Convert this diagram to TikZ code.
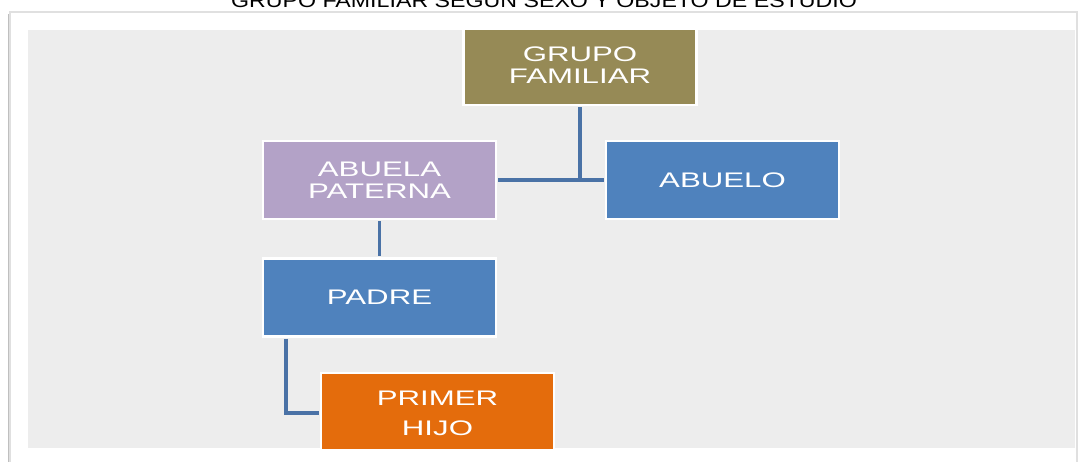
\documentclass[tikz,border=0pt]{standalone}
\usepackage{fontspec}
\newfontfamily\boxfont[FakeStretch=1.48]{Liberation Sans}
\newfontfamily\titlefont[FakeStretch=1.2]{Liberation Sans}

\definecolor{olivebox}{HTML}{968A56}
\definecolor{lilacbox}{HTML}{B3A2C7}
\definecolor{bluebox}{HTML}{4F82BD}
\definecolor{orangebox}{HTML}{E46C0C}
\definecolor{linkblue}{HTML}{4A72A6}
\definecolor{panelgray}{HTML}{EDEDED}

\tikzset{
  member/.style={draw=white, line width=1.2pt, text=white, align=center,
    minimum width=4.66cm, minimum height=1.56cm, inner sep=0pt,
    font=\boxfont\fontsize{12}{12.8}\selectfont},
  link/.style={draw=linkblue, line width=2.2pt, shorten <=0.6pt, shorten >=0.6pt},
}

\begin{document}
\begin{tikzpicture}[x=0.02cm, y=-0.02cm]
        \useasboundingbox (0,0) rectangle (1081,461);

        % marco y fondo
        \fill[white] (0,0) rectangle (1081,461);
        \draw[black!25, line width=1.6pt] (9,14) -- (9,470);
        \draw[black!12, line width=0.6pt] (10,12) rectangle (1077,470);
        \fill[panelgray] (28,30) rectangle (1075,448);

        \node[anchor=base, font=\titlefont\fontsize{11}{12}\selectfont] (titulo) at (544,7)
            {GRUPO FAMILIAR SEGÚN SEXO Y OBJETO DE ESTUDIO};

        \begin{scope}
            \clip (28,30) rectangle (1075,448);
            \node[member, fill=olivebox, minimum height=1.6cm] (grupo) at (580,65) {GRUPO\\FAMILIAR};
            \node[member, fill=lilacbox] (abuela) at (379.5,180) {ABUELA\\PATERNA};
            \node[member, fill=bluebox] (abuelo) at (722.5,180) {ABUELO};
            \node[member, fill=bluebox] (padre) at (379.5,297.5) {PADRE};
            \node[member, fill=orangebox, minimum height=1.6cm,
                  font=\boxfont\fontsize{12}{17}\selectfont] (hijo) at (437.5,413) {PRIMER\\HIJO};
        \end{scope}

        % lineas
        \draw[link] (grupo.south) -- (grupo.south |- abuela.east);
        \draw[link] (abuela.east) -- (abuelo.west);
        \draw[link] (abuela.south) -- (padre.north);
        \draw[link] ([xshift=0.48cm]padre.south west) |- (hijo.west);

\end{tikzpicture}
\end{document}
